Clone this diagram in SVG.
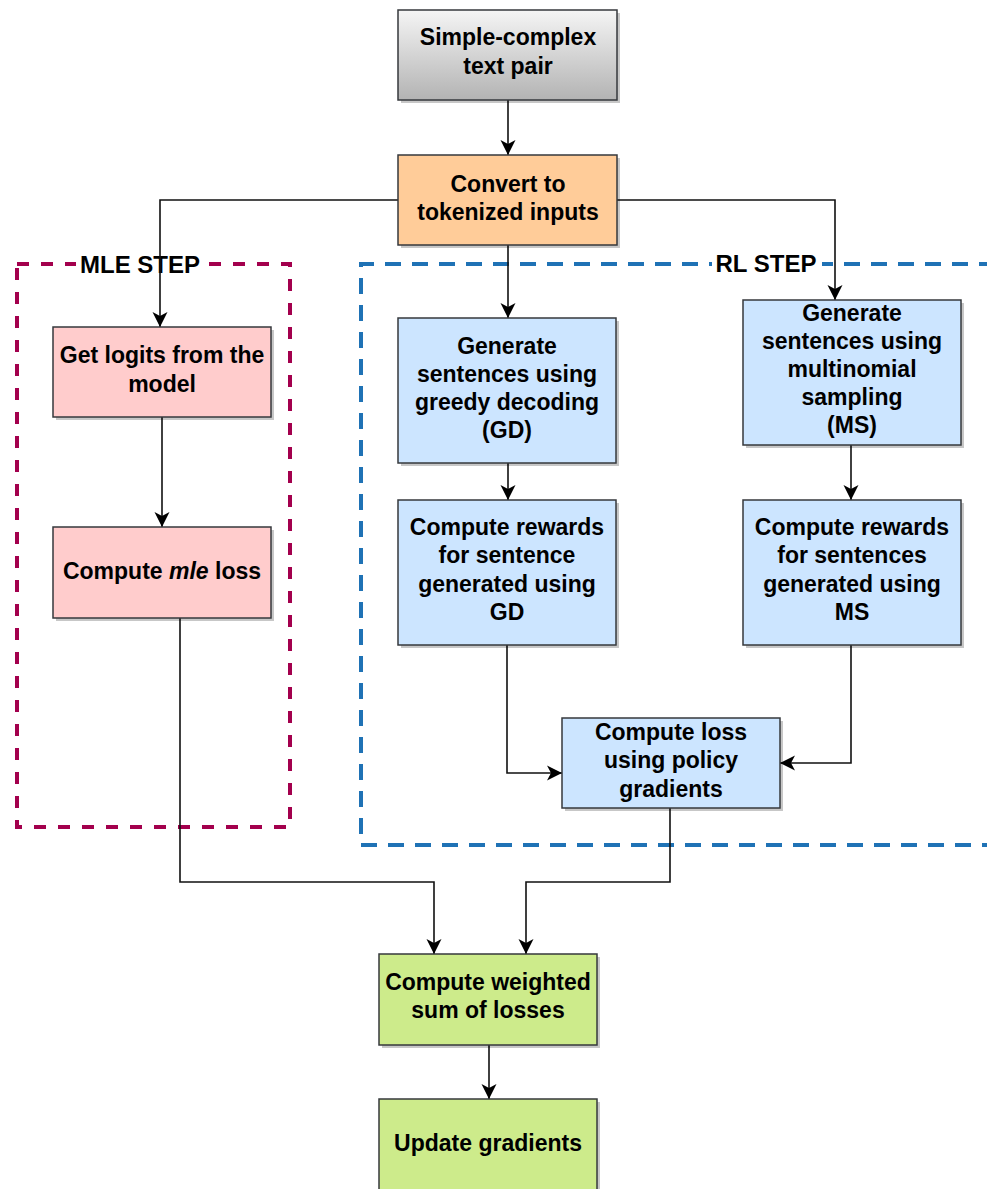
<svg xmlns="http://www.w3.org/2000/svg" width="987" height="1189" viewBox="0 0 987 1189">
<style>
.t{font-family:"Liberation Sans",Arial,sans-serif;font-weight:bold;font-size:23px;fill:#000;text-anchor:middle}
.box{stroke:#36393d;stroke-width:1.5}
.sh{fill:#000;opacity:0.22}
.c{fill:none;stroke:#111;stroke-width:1.6}
.lbl{font-family:"Liberation Sans",Arial,sans-serif;font-weight:bold;font-size:24px;fill:#000;text-anchor:middle}
</style>
<defs>
<linearGradient id="gr" x1="0" y1="0" x2="0" y2="1"><stop offset="0" stop-color="#f5f5f5"/><stop offset="1" stop-color="#b3b3b3"/></linearGradient>
<marker id="ar" markerUnits="userSpaceOnUse" markerWidth="16" markerHeight="16" refX="15" refY="8" orient="auto"><path d="M0,0.5 L15,8 L0,15.5 L4,8 z" fill="#000"/></marker>
</defs>
<g id="mle-step">
<rect x="17" y="264" width="273" height="563" fill="none" stroke="#a3004d" stroke-width="4" stroke-dasharray="12 12"/>
<rect x="76" y="256" width="128" height="24" fill="#fff"/>
<text class="lbl" x="140" y="273">MLE STEP</text>
</g>
<g id="rl-step">
<path d="M995,264 H361 V845 H995" fill="none" stroke="#1f72b5" stroke-width="4" stroke-dasharray="16 11"/>
<rect x="712" y="256" width="110" height="24" fill="#fff"/>
<text class="lbl" x="766" y="272">RL STEP</text>
</g>
<g id="connectors">
<path class="c" d="M508,100 V155" marker-end="url(#ar)"/>
<path class="c" d="M398,200 H160 V327" marker-end="url(#ar)"/>
<path class="c" d="M617,200 H835 V300" marker-end="url(#ar)"/>
<path class="c" d="M508,245 V318" marker-end="url(#ar)"/>
<path class="c" d="M162,417 V527" marker-end="url(#ar)"/>
<path class="c" d="M508,463 V500" marker-end="url(#ar)"/>
<path class="c" d="M851,445 V500" marker-end="url(#ar)"/>
<path class="c" d="M507,645 V773 H562" marker-end="url(#ar)"/>
<path class="c" d="M851,645 V763 H780" marker-end="url(#ar)"/>
<path class="c" d="M180,618 V882 H434 V954" marker-end="url(#ar)"/>
<path class="c" d="M670,808 V882 H526 V954" marker-end="url(#ar)"/>
<path class="c" d="M489,1045 V1099" marker-end="url(#ar)"/>
</g>
<g id="text-pair">
<rect class="sh" x="401" y="13" width="219" height="90"/>
<rect class="box" x="398" y="10" width="219" height="90" fill="url(#gr)"/>
<text class="t" x="508" y="45">Simple-complex</text>
<text class="t" x="508" y="74">text pair</text>
</g>
<g id="tokenize">
<rect class="sh" x="401" y="158" width="219" height="90"/>
<rect class="box" x="398" y="155" width="219" height="90" fill="#ffcc99"/>
<text class="t" x="508" y="192">Convert to</text>
<text class="t" x="508" y="220">tokenized inputs</text>
</g>
<g id="logits">
<rect class="sh" x="56" y="330" width="218" height="90"/>
<rect class="box" x="53" y="327" width="218" height="90" fill="#ffcccc"/>
<text class="t" x="162" y="363">Get logits from the</text>
<text class="t" x="162" y="392">model</text>
</g>
<g id="mle-loss">
<rect class="sh" x="56" y="530" width="218" height="91"/>
<rect class="box" x="53" y="527" width="218" height="91" fill="#ffcccc"/>
<text class="t" x="162" y="579">Compute <tspan font-style="italic">mle</tspan> loss</text>
</g>
<g id="gd">
<rect class="sh" x="401" y="321" width="218" height="145"/>
<rect class="box" x="398" y="318" width="218" height="145" fill="#cce5ff"/>
<text class="t" x="507" y="354">Generate</text>
<text class="t" x="507" y="382">sentences using</text>
<text class="t" x="507" y="410">greedy decoding</text>
<text class="t" x="507" y="438">(GD)</text>
</g>
<g id="ms">
<rect class="sh" x="746" y="303" width="218" height="145"/>
<rect class="box" x="743" y="300" width="218" height="145" fill="#cce5ff"/>
<text class="t" x="852" y="321">Generate</text>
<text class="t" x="852" y="349">sentences using</text>
<text class="t" x="852" y="377">multinomial</text>
<text class="t" x="852" y="405">sampling</text>
<text class="t" x="852" y="433">(MS)</text>
</g>
<g id="rewards-gd">
<rect class="sh" x="401" y="503" width="218" height="145"/>
<rect class="box" x="398" y="500" width="218" height="145" fill="#cce5ff"/>
<text class="t" x="507" y="535">Compute rewards</text>
<text class="t" x="507" y="563">for sentence</text>
<text class="t" x="507" y="592">generated using</text>
<text class="t" x="507" y="620">GD</text>
</g>
<g id="rewards-ms">
<rect class="sh" x="746" y="503" width="218" height="145"/>
<rect class="box" x="743" y="500" width="218" height="145" fill="#cce5ff"/>
<text class="t" x="852" y="535">Compute rewards</text>
<text class="t" x="852" y="563">for sentences</text>
<text class="t" x="852" y="592">generated using</text>
<text class="t" x="852" y="620">MS</text>
</g>
<g id="policy">
<rect class="sh" x="565" y="721" width="218" height="90"/>
<rect class="box" x="562" y="718" width="218" height="90" fill="#cce5ff"/>
<text class="t" x="671" y="740">Compute loss</text>
<text class="t" x="671" y="768">using policy</text>
<text class="t" x="671" y="797">gradients</text>
</g>
<g id="weighted">
<rect class="sh" x="382" y="957" width="218" height="91"/>
<rect class="box" x="379" y="954" width="218" height="91" fill="#cdeb8b"/>
<text class="t" x="488" y="990">Compute weighted</text>
<text class="t" x="488" y="1018">sum of losses</text>
</g>
<g id="update">
<rect class="sh" x="382" y="1102" width="218" height="91"/>
<rect class="box" x="379" y="1099" width="218" height="91" fill="#cdeb8b"/>
<text class="t" x="488" y="1151">Update gradients</text>
</g>
</svg>
